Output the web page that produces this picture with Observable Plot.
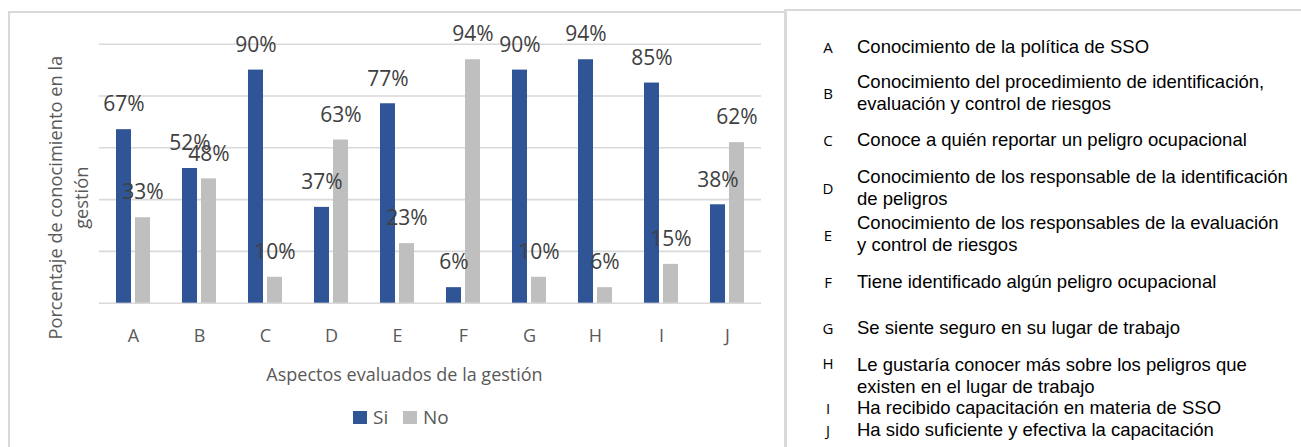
<!DOCTYPE html>
<html><head><meta charset="utf-8">
<script src="https://cdn.jsdelivr.net/npm/d3@7"></script>
<script src="https://cdn.jsdelivr.net/npm/@observablehq/plot@0.6"></script>
<style>
html,body{margin:0;padding:0;background:#fff;}
body{width:1301px;height:447px;overflow:hidden;position:relative;font-family:"Open Sans",sans-serif;}
#chartbox{position:absolute;left:8px;top:11px;width:778px;height:450px;border:2px solid #d9d9d9;box-sizing:border-box;}
#panel{position:absolute;left:784px;top:9px;width:540px;height:460px;border-left:3px solid #d9d9d9;border-top:2px solid #d9d9d9;box-sizing:border-box;}
#plot{position:absolute;left:0;top:0;}
.sw{position:absolute;width:14px;height:13px;}
.lg{position:absolute;font-size:19px;color:#595959;line-height:20px;}
.code{position:absolute;left:821px;width:14px;text-align:center;font-family:"Open Sans",sans-serif;font-size:15px;color:#000;line-height:20px;}
.desc{position:absolute;left:857px;font-family:"Liberation Sans",Arial,sans-serif;font-size:18.5px;color:#000;line-height:21.7px;white-space:pre;}
</style>
</head><body>
<div id="chartbox"></div>
<div id="panel"></div>
<div id="plot"></div>
<div id="legend"></div>
<div id="table"></div>
<script>
const categories = ["A","B","C","D","E","F","G","H","I","J"];
const si = [67,52,90,37,77,6,90,94,85,38];
const no = [33,48,10,63,23,94,10,6,15,62];
const series = ["Si","No"];
const seriesColors = ["#2F5597","#BFBFBF"];
const yTicks = [0,20,40,60,80,100];
const xTitle = "Aspectos evaluados de la gestión";
const yTitle = "Porcentaje de conocimiento en la\ngestión";
const descriptions = [
  "Conocimiento de la política de SSO",
  "Conocimiento del procedimiento de identificación,\nevaluación y control de riesgos",
  "Conoce a quién reportar un peligro ocupacional",
  "Conocimiento de los responsable de la identificación\nde peligros",
  "Conocimiento de los responsables de la evaluación\ny control de riesgos",
  "Tiene identificado algún peligro ocupacional",
  "Se siente seguro en su lugar de trabajo",
  "Le gustaría conocer más sobre los peligros que\nexisten en el lugar de trabajo",
  "Ha recibido capacitación en materia de SSO",
  "Ha sido suficiente y efectiva la capacitación"
];

const rows = categories.flatMap((c, i) => [
  {cat: c, serie: "Si", v: si[i]},
  {cat: c, serie: "No", v: no[i]}
]);
const siRows = rows.filter(d => d.serie === "Si");
const noRows = rows.filter(d => d.serie === "No");

const chart = Plot.plot({
  width: 785,
  height: 390,
  marginLeft: 99,
  marginRight: 24,
  marginTop: 43.7,
  marginBottom: 87.3,
  x: {domain: categories, padding: 0, axis: null},
  y: {domain: [0, 100], axis: null},
  color: {domain: series, range: seriesColors},
  style: {fontFamily: "'Open Sans', sans-serif", background: "transparent", overflow: "visible"},
  marks: [
    Plot.gridY(yTicks, {stroke: "#d9d9d9", strokeOpacity: 1, strokeWidth: 1.6}),
    Plot.barY(siRows, {x: "cat", y: "v", fill: "serie", insetLeft: 16, insetRight: 35}),
    Plot.barY(noRows, {x: "cat", y: "v", fill: "serie", insetLeft: 35, insetRight: 16}),
    Plot.text(siRows, {x: "cat", y: "v", text: d => d.v + "%", dx: -9.5, dy: -25, fontSize: 21, fill: "#404040"}),
    Plot.text(noRows, {x: "cat", y: "v", text: d => d.v + "%", dx: 9.5, dy: -25, fontSize: 21, fill: "#404040"}),
    Plot.axisX({tickSize: 0, tickPadding: 26, fontSize: 18, color: "#595959", label: null}),
    Plot.text([xTitle], {frameAnchor: "bottom", lineAnchor: "middle", dy: 72, dx: -26, fontSize: 18, fill: "#595959"}),
    Plot.text([yTitle], {frameAnchor: "left", textAnchor: "middle", rotate: -90, lineAnchor: "middle", lineHeight: 1.4, dx: -33, dy: 24, fontSize: 18.3, fill: "#595959"})
  ]
});
document.getElementById("plot").appendChild(chart);

// legend
const legend = document.getElementById("legend");
const legendX = [353, 403];
series.forEach((s, i) => {
  const sw = document.createElement("div");
  sw.className = "sw";
  sw.style.left = legendX[i] + "px";
  sw.style.top = "411px";
  sw.style.background = seriesColors[i];
  legend.appendChild(sw);
  const t = document.createElement("div");
  t.className = "lg";
  t.style.left = (legendX[i] + 20) + "px";
  t.style.top = "407px";
  t.textContent = s;
  legend.appendChild(t);
});

// description table
const codeY = [46.7, 93.3, 140, 188.3, 235, 281.7, 328.3, 363.3, 408.3, 430];
const descY = [46.7, 81.7, 140, 176.7, 223.3, 281.7, 328.3, 365, 408.3, 430];
const table = document.getElementById("table");
categories.forEach((c, i) => {
  const k = document.createElement("div");
  k.className = "code";
  k.style.top = (codeY[i] - 10) + "px";
  k.textContent = c;
  table.appendChild(k);
  const d = document.createElement("div");
  d.className = "desc";
  d.style.top = (descY[i] - 10.85) + "px";
  d.textContent = descriptions[i];
  table.appendChild(d);
});
</script>
</body></html>
